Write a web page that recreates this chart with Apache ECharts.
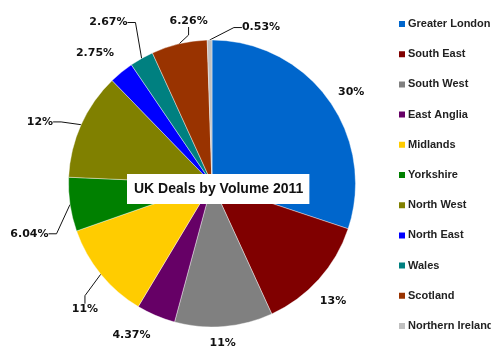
<!DOCTYPE html>
<html><head><meta charset="utf-8">
<script src="https://cdn.jsdelivr.net/npm/echarts@6/dist/echarts.min.js"></script>
<style>html,body{margin:0;padding:0;background:#fff}#c{width:491px;height:347px}</style>
</head><body><div id="c"></div>
<script>
var categories = ['Greater London','South East','South West','East Anglia','Midlands','Yorkshire','North West','North East','Wales','Scotland','Northern Ireland'];
var values = [30, 13, 11, 4.37, 11, 6.04, 12, 2.75, 2.67, 6.26, 0.53];
var colors = ['#0066CC','#800000','#808080','#660066','#FFCC00','#008000','#808000','#0000FF','#008080','#993300','#C0C0C0'];
var showLeader = [false,false,false,false,true,true,true,false,true,true,true];
var titleText = 'UK Deals by Volume 2011';

// label placement tweaks (layout only): extra radial gap (px) and angular shift (deg)
var labelExtraGap = [-1, 2, 0, 4, 12, 16, 15, 5, 23, 2, -1];
var labelAngleShift = [2.5, 2.3, 0.9, 5, -5.5, -7, -4.5, -2.7, -3.4, 5, 18.4];

var CX = 212, CY = 183.5, R = 143.5;
var total = values.reduce(function(a,b){return a+b;},0);
var midAngles = [];
(function(){ var acc = 0; for (var i=0;i<values.length;i++){ midAngles.push((acc + values[i]/2)/total*360); acc += values[i]; } })();

var chart = echarts.init(document.getElementById('c'));
var data = categories.map(function(n,i){
  return {name:n, value:values[i], itemStyle:{color:colors[i]}, labelLine:{show:showLeader[i]}};
});
chart.setOption({
  animation:false,
  title:{text:titleText, left:127, top:174, backgroundColor:'#fff', padding:[8,6,8,7],
    textStyle:{fontFamily:'Liberation Sans', fontSize:14, fontWeight:'bold', color:'#111'}},
  legend:{orient:'vertical', left:397, top:17, padding:0, itemWidth:8, itemHeight:8, itemGap:16.2, icon:'rect',
    textStyle:{fontFamily:'Liberation Sans', fontSize:11, fontWeight:'bold', color:'#222', lineHeight:14, padding:[0,0,0,-3]}},
  series:[{type:'pie', center:[CX,CY], radius:[0,R], startAngle:90, clockwise:true,
    data:data,
    itemStyle:{borderColor:'#fff', borderWidth:0.4},
    label:{show:true, position:'outside', formatter:function(p){return p.value+'%';},
      fontFamily:'DejaVu Sans', fontSize:11, fontWeight:'bold', color:'#111'},
    labelLine:{show:true, length:10, length2:8, lineStyle:{color:'#111', width:1}},
    labelLayout:function(p){
      var i = p.dataIndex;
      var th = (midAngles[i] + labelAngleShift[i]) * Math.PI/180;
      var dx = Math.sin(th), dy = -Math.cos(th);
      var w = p.labelRect.width, h = p.labelRect.height;
      var half = Math.abs(dx)*w/2 + Math.abs(dy)*h/2;
      var rr = R + 10 + half + labelExtraGap[i];
      return {x: CX + dx*rr, y: CY + dy*rr, align:'center', verticalAlign:'middle'};
    }
  }]
});
</script></body></html>
